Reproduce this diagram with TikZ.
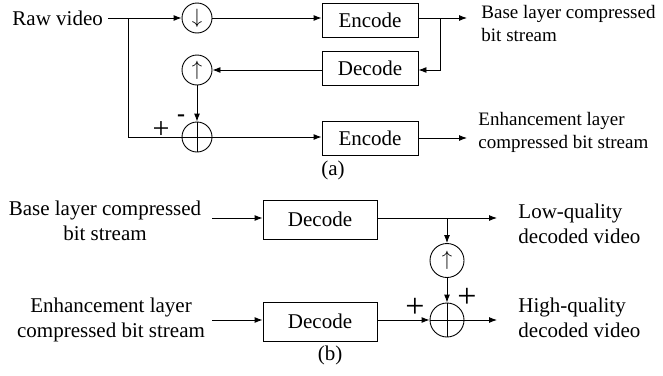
\documentclass[tikz,border=0pt]{standalone}
\usepackage{fontspec}
\setmainfont{Liberation Serif}
\usetikzlibrary{arrows.meta}
\begin{document}
\begin{tikzpicture}[x=1pt,y=-1pt, line width=0.9pt,
  font=\fontsize{21}{25}\selectfont,
  >={Latex[length=8pt,width=6pt]},
  box/.style={draw, minimum width=96pt, minimum height=34pt, inner sep=0pt},
  bbox/.style={draw, minimum width=114pt, minimum height=39pt, inner sep=0pt},
  circ/.style={draw, circle, minimum size=30pt, inner sep=0pt},
  bcirc/.style={draw, circle, minimum size=34pt, inner sep=0pt},
  lbl/.style={inner sep=0pt, align=left},
  slbl/.style={inner sep=0pt, align=left, font=\fontsize{19}{23}\selectfont},
  clbl/.style={inner sep=0pt, align=center}]
\useasboundingbox (0,0) rectangle (663,375);
% ---------- (a) ----------
\node[lbl, anchor=west] (raw) at (12,18) {Raw video};
\node[circ] (down) at (197,18) {$\downarrow$};
\node[box] (enc1) at (370,20.5) {Encode};
\node[box] (dec) at (370,68.5) {Decode};
\node[box] (enc2) at (370,138.5) {Encode};
\node[circ] (up) at (197,70) {$\uparrow$};
\node[circ] (sum) at (197,137) {};
\draw (sum.north) -- (sum.south) (sum.west) -- (sum.east);
\coordinate (br0) at (128,18);
\coordinate (br1) at (440,18);
\coordinate (out1) at (467,18);
\coordinate (out2) at (467,138);
\node[slbl, anchor=west] (base) at (481,23) {Base layer compressed\\bit stream};
\node[slbl, anchor=west] (enh) at (478,132) {Enhancement layer\\compressed bit stream};
\draw (raw.east) ++(5,0) -- (br0);
\draw (br0) |- (sum.west);
\draw[->] (br0) -- (down.west);
\draw[->] (down.east) -- (down.east -| enc1.west);
\draw[->] (enc1.east |- out1) -- (out1);
\draw[->] (br1) |- (dec.east |- 0,70);
\draw[->] (dec.west |- up) -- (up.east);
\draw[->] (up.south) -- (sum.north);
\draw[->] (sum.east) -- (sum.east -| enc2.west);
\draw[->] (enc2.east |- out2) -- (out2);
\node[inner sep=0pt] (plusa) at (161,130) {\fontsize{30}{30}\selectfont +};
\node[inner sep=0pt] (minusa) at (181,118) {\fontsize{24}{24}\selectfont\bfseries -};
\node[inner sep=0pt] (capa) at (333,170) {(a)};
% ---------- (b) ----------
\node[clbl] (bin) at (105,221) {Base layer compressed\\bit stream};
\node[clbl] (ein) at (111,320) {Enhancement layer\\compressed bit stream};
\node[bbox] (db1) at (320,219.5) {Decode};
\node[bbox] (db2) at (320,321.5) {Decode};
\node[bcirc] (upb) at (447,260.5) {$\uparrow$};
\node[bcirc] (sumb) at (447,320) {};
\draw (sumb.north) -- (sumb.south) (sumb.west) -- (sumb.east);
\coordinate (bin0) at (212,218);
\coordinate (ein0) at (212,320);
\coordinate (brb) at (447,218);
\coordinate (outb1) at (497,218);
\coordinate (outb2) at (497,320);
\node[lbl, anchor=west] (low) at (518,224) {Low-quality\\decoded video};
\node[lbl, anchor=west] (high) at (518,318) {High-quality\\decoded video};
\draw[->] (bin0) -- (bin0 -| db1.west);
\draw[->] (ein0) -- (ein0 -| db2.west);
\draw[->] (db1.east |- outb1) -- (outb1);
\draw[->] (brb) -- (upb.north);
\draw[->] (upb.south) -- (sumb.north);
\draw[->] (db2.east |- sumb) -- (sumb.west);
\draw[->] (sumb.east) -- (outb2);
\node[inner sep=0pt] (plusb1) at (415,308) {\fontsize{34}{34}\selectfont +};
\node[inner sep=0pt] (plusb2) at (467,298) {\fontsize{34}{34}\selectfont +};
\node[inner sep=0pt] (capb) at (330,355) {(b)};
\end{tikzpicture}
\end{document}
